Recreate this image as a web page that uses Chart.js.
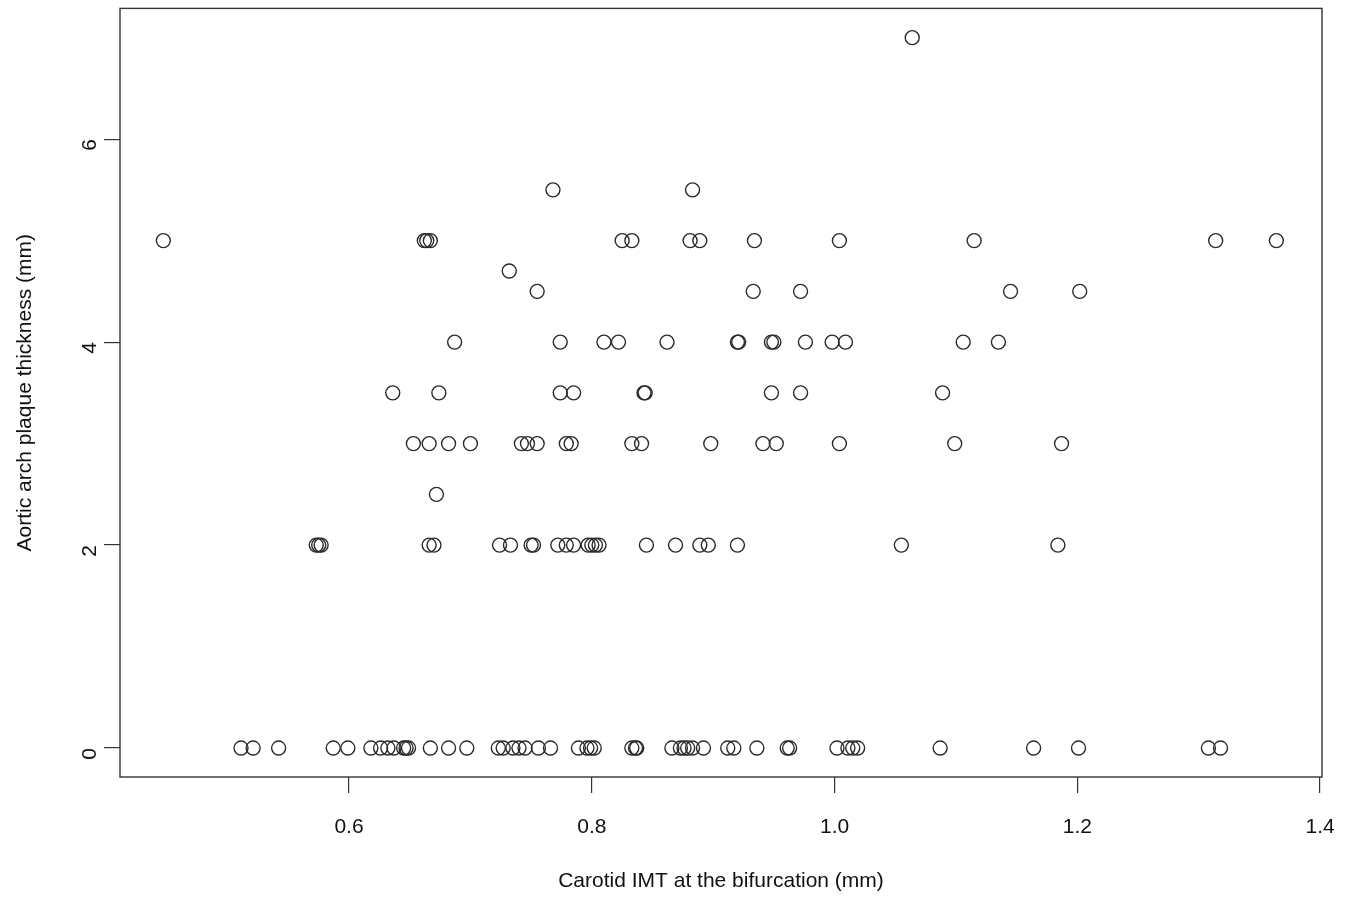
<!DOCTYPE html>
<html>
<head>
<meta charset="utf-8">
<script src="https://cdn.jsdelivr.net/npm/chart.js@4.4.0/dist/chart.umd.min.js"></script>
<style>
  html, body { margin: 0; padding: 0; background: #fff; }
  #wrap { width: 1359px; height: 902px; }
</style>
</head>
<body>
<div id="wrap"><canvas id="scatter"></canvas></div>
<script>
// Carotid IMT (x) grouped by aortic arch plaque thickness (y)
const X_TITLE = "Carotid IMT at the bifurcation (mm)";
const Y_TITLE = "Aortic arch plaque thickness (mm)";
const X_TICKS = [0.6, 0.8, 1.0, 1.2, 1.4];
const Y_TICKS = [0, 2, 4, 6];

const imtAt0 = [0.511, 0.521, 0.542, 0.587, 0.599, 0.618, 0.626, 0.632, 0.637, 0.645, 0.647, 0.649,
  0.667, 0.682, 0.697, 0.723, 0.727, 0.735, 0.740, 0.745, 0.756, 0.766, 0.789, 0.796, 0.799, 0.802,
  0.833, 0.836, 0.837, 0.866, 0.873, 0.876, 0.879, 0.883, 0.892, 0.912, 0.917, 0.936, 0.961, 0.963,
  1.002, 1.011, 1.015, 1.019, 1.087, 1.164, 1.201, 1.308, 1.318];
const imtAt2 = [0.573, 0.575, 0.577, 0.666, 0.670, 0.724, 0.733, 0.750, 0.752, 0.772, 0.779, 0.785,
  0.797, 0.800, 0.803, 0.806, 0.845, 0.869, 0.889, 0.896, 0.920, 1.055, 1.184];
const imtAt2_5 = [0.672];
const imtAt3 = [0.653, 0.666, 0.682, 0.700, 0.742, 0.747, 0.755, 0.779, 0.783, 0.833, 0.841, 0.898,
  0.941, 0.952, 1.004, 1.099, 1.187];
const imtAt3_5 = [0.636, 0.674, 0.774, 0.785, 0.843, 0.844, 0.948, 0.972, 1.089];
const imtAt4 = [0.687, 0.774, 0.810, 0.822, 0.862, 0.920, 0.921, 0.948, 0.950, 0.976, 0.998, 1.009,
  1.106, 1.135];
const imtAt4_5 = [0.755, 0.933, 0.972, 1.145, 1.202];
const imtAt4_7 = [0.732];
const imtAt5 = [0.447, 0.662, 0.664, 0.667, 0.825, 0.833, 0.881, 0.889, 0.934, 1.004, 1.115, 1.314, 1.364];
const imtAt5_5 = [0.768, 0.883];
const imtAt7 = [1.064];

const rows = [
  [0, imtAt0], [2, imtAt2], [2.5, imtAt2_5], [3, imtAt3], [3.5, imtAt3_5], [4, imtAt4],
  [4.5, imtAt4_5], [4.7, imtAt4_7], [5, imtAt5], [5.5, imtAt5_5], [7, imtAt7]
];

const points = [];
rows.forEach(([plaque, list]) => {
  list.forEach(imt => points.push({ x: imt, y: plaque }));
});

const FONT = "'Liberation Sans', Arial, sans-serif";
const INK = "#111";

// R style frame round the plot region
const boxPlugin = {
  id: "box",
  afterDraw(chart) {
    const { ctx, chartArea } = chart;
    ctx.save();
    ctx.strokeStyle = "#333";
    ctx.lineWidth = 1.4;
    ctx.strokeRect(chartArea.left, chartArea.top, chartArea.right - chartArea.left, chartArea.bottom - chartArea.top);
    ctx.restore();
  }
};

new Chart(document.getElementById("scatter"), {
  type: "scatter",
  data: {
    datasets: [
      {
        data: points,
        pointStyle: "circle",
        pointRadius: 7,
        pointHoverRadius: 7,
        borderColor: "#2a2a2a",
        borderWidth: 1.4,
        backgroundColor: "rgba(0,0,0,0)"
      }
    ]
  },
  options: {
    responsive: true,
    maintainAspectRatio: false,
    animation: false,
    layout: { padding: { top: 7, right: 37, left: 0, bottom: 0 } },
    plugins: { legend: { display: false }, tooltip: { enabled: false } },
    scales: {
      x: {
        type: "linear",
        min: 0.4113,
        max: 1.4016,
        afterBuildTicks: scale => { scale.ticks = X_TICKS.map(v => ({ value: v })); },
        afterFit: scale => {
          scale.height = 125;
          scale.paddingLeft = 0;
          scale.paddingRight = 0;
        },
        ticks: {
          color: INK,
          font: { family: FONT, size: 21 },
          padding: 22,
          callback: v => v.toFixed(1)
        },
        grid: { drawOnChartArea: false, drawTicks: true, tickLength: 16, color: "#333", lineWidth: 1.2 },
        border: { display: false },
        title: {
          display: true,
          text: X_TITLE,
          color: INK,
          font: { family: FONT, size: 21 },
          padding: { top: 0, bottom: 8 }
        }
      },
      y: {
        type: "linear",
        min: -0.285,
        max: 7.288,
        afterBuildTicks: scale => { scale.ticks = Y_TICKS.map(v => ({ value: v })); },
        afterFit: scale => {
          scale.width = 120;
          scale.paddingTop = 0;
          scale.paddingBottom = 0;
        },
        ticks: {
          color: INK,
          font: { family: FONT, size: 21 },
          padding: 14,
          minRotation: 90,
          maxRotation: 90,
          callback: v => String(v)
        },
        grid: { drawOnChartArea: false, drawTicks: true, tickLength: 16, color: "#333", lineWidth: 1.2 },
        border: { display: false },
        title: {
          display: true,
          text: Y_TITLE,
          color: INK,
          font: { family: FONT, size: 21 },
          padding: { top: 13, bottom: 0 }
        }
      }
    }
  },
  plugins: [boxPlugin]
});
</script>
</body>
</html>
